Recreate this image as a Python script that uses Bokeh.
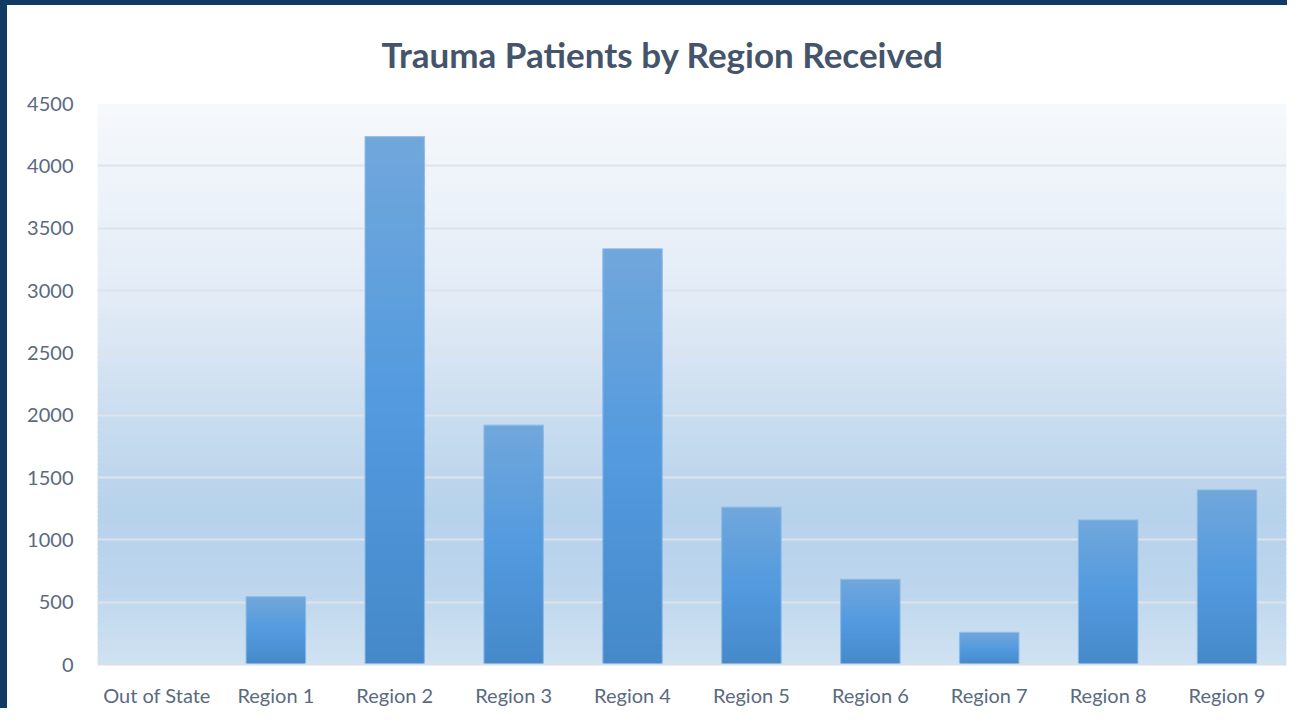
from bokeh.plotting import figure
from bokeh.models import Range1d, FactorRange, Title
from bokeh.embed import file_html
from bokeh.resources import INLINE

# ---- data ----
categories = ["Out of State", "Region 1", "Region 2", "Region 3", "Region 4",
              "Region 5", "Region 6", "Region 7", "Region 8", "Region 9"]
patients = [0, 545, 4235, 1920, 3335, 1262, 683, 257, 1160, 1400]
y_ticks = [0, 500, 1000, 1500, 2000, 2500, 3000, 3500, 4000, 4500]

TITLE = "Trauma Patients by Region Received"
FONT = "Lato"
TEXT_COLOR = "#5a6a7f"
TITLE_COLOR = "#44546a"
NAVY = "#113b62"


def hex2rgb(h):
    h = h.lstrip("#")
    return tuple(int(h[i:i + 2], 16) for i in (0, 2, 4))


def grad(stops, t):
    for (p0, c0), (p1, c1) in zip(stops[:-1], stops[1:]):
        if p0 <= t <= p1:
            f = 0 if p1 == p0 else (t - p0) / (p1 - p0)
            a, b = hex2rgb(c0), hex2rgb(c1)
            return "#%02x%02x%02x" % tuple(round(a[i] + (b[i] - a[i]) * f) for i in range(3))
    return stops[-1][1]


ymax = y_ticks[-1]

p = figure(width=1287, height=708, x_range=FactorRange(*categories, range_padding=0),
           y_range=Range1d(0, ymax), output_backend="svg", toolbar_location=None,
           min_border_left=90, min_border_right=8, min_border_top=98, min_border_bottom=49)
p.outline_line_color = None
p.background_fill_color = "white"
p.border_fill_color = "white"
p.styles = {"border-left": "7px solid " + NAVY, "border-top": "5px solid " + NAVY}

# ---- plot-area gradient background (top -> bottom) ----
bg_stops = [(0.0, "#f6f9fc"), (0.35, "#e2ebf6"), (0.72, "#b7d2eb"),
            (0.84, "#bad4ec"), (1.0, "#d0e2f2")]
N_BG = 120
bg_bot, bg_top, bg_col = [], [], []
for k in range(N_BG):
    bg_top.append(ymax * (1 - k / N_BG))
    bg_bot.append(max(0, ymax * (1 - (k + 1.6) / N_BG)))
    bg_col.append(grad(bg_stops, (k + 0.5) / N_BG))
p.vbar(x=[categories[len(categories) // 2]] * N_BG, width=len(categories) * 2,
       top=bg_top, bottom=bg_bot, fill_color=bg_col, line_color=None, level="image")

# ---- bars with vertical gradient ----
bar_stops = [(0.0, "#71a7db"), (0.5, "#539adf"), (1.0, "#4589c9")]
N_BAR = 40
bx, bt, bb, bc = [], [], [], []
for cat, v in zip(categories, patients):
    if v <= 0:
        continue
    for k in range(N_BAR):
        bx.append(cat)
        bt.append(v * (1 - k / N_BAR))
        bb.append(max(0, v * (1 - (k + 1.8) / N_BAR)))
        bc.append(grad(bar_stops, (k + 0.5) / N_BAR))
p.vbar(x=bx, top=bt, bottom=bb, width=0.5, fill_color=bc, line_color=None)
p.vbar(x=categories, top=patients, width=0.5, fill_color=None,
       line_color="#8dbbe6", line_width=1.2, line_alpha=0.8)

# ---- axes / grid ----
p.xgrid.grid_line_color = None
p.ygrid.grid_line_color = "#dde3eb"
p.ygrid.grid_line_width = 2
p.ygrid.ticker = y_ticks

p.yaxis.ticker = y_ticks
p.yaxis.axis_line_color = None
p.yaxis.major_tick_line_color = None
p.yaxis.major_tick_out = 0
p.yaxis.major_tick_in = 0
p.yaxis.minor_tick_line_color = None
p.yaxis.major_label_standoff = 24
p.yaxis.major_label_text_font = FONT
p.yaxis.major_label_text_font_size = "20px"
p.yaxis.major_label_text_color = TEXT_COLOR

p.xaxis.axis_line_color = "#d9dfe7"
p.xaxis.axis_line_width = 2
p.xaxis.major_tick_line_color = None
p.xaxis.major_tick_out = 0
p.xaxis.major_tick_in = 0
p.xaxis.minor_tick_line_color = None
p.xaxis.major_label_standoff = 18
p.xaxis.major_label_text_font = FONT
p.xaxis.major_label_text_font_size = "20px"
p.xaxis.major_label_text_color = TEXT_COLOR

p.title = Title(text=TITLE, align="left", offset=284, standoff=54, vertical_align="top",
                text_font=FONT, text_font_size="35px", text_font_style="bold",
                text_color=TITLE_COLOR)

open("out.html", "w").write(file_html(p, INLINE))
